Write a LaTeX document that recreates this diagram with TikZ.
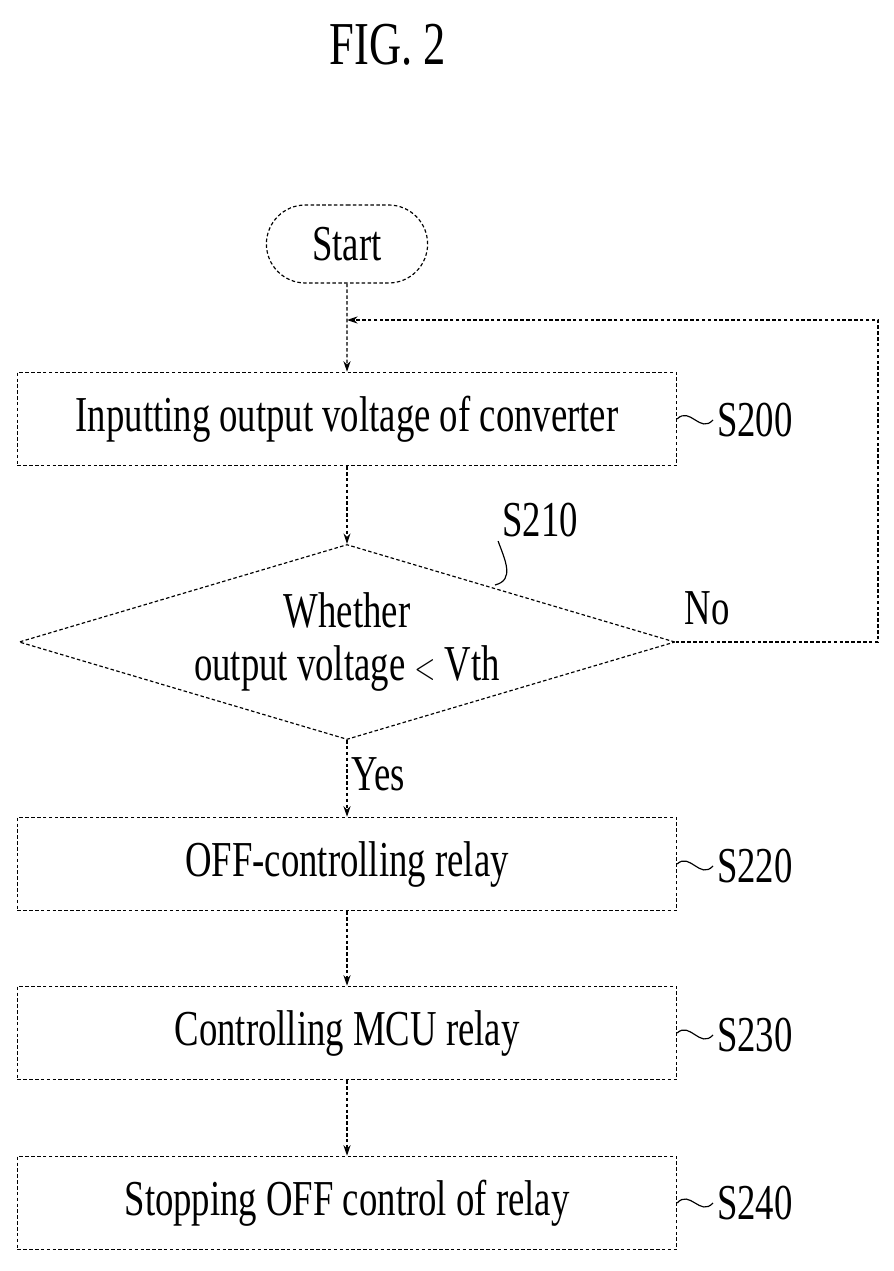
\documentclass[tikz,border=0pt]{standalone}
\usepackage{fontspec}
\setmainfont{Liberation Serif}
\usetikzlibrary{shapes.geometric,shapes.misc,arrows.meta,positioning}

% tall, narrow lettering
\newcommand{\tallt}[1]{\scalebox{0.95}[1.3]{#1}}

\begin{document}
\begin{tikzpicture}[x=0.03cm,y=-0.03cm,>={Stealth[length=9pt,width=6pt]},
    line/.style={densely dashed, line width=1pt},
    step box/.style={line, draw, rectangle, minimum width=19.77cm, minimum height=2.8cm,
        font=\fontsize{33}{36}\selectfont},
    step label/.style={font=\fontsize{33}{36}\selectfont},
    flow/.style={line, ->}]

% page
\useasboundingbox (0,0) rectangle (893,1271);

% Title
\node[font=\fontsize{40}{44}\selectfont] (title) at (388,45) {\tallt{FIG. 2}};

% Steps
\node[line, draw, rounded rectangle, minimum width=5.07cm, minimum height=2.34cm,
    font=\fontsize{33}{36}\selectfont] (start) at (347,244) {\tallt{Start}};
\node[step box] (s200) at (347,419) {\tallt{Inputting output voltage of converter}};
\node[line, draw, diamond, aspect=3.36, minimum width=19.68cm, minimum height=5.85cm,
    inner sep=0pt, align=center, font=\fontsize{33}{46}\selectfont] (s210) at (347,642)
    {\tallt{Whether}\\\tallt{output voltage \raisebox{1pt}{$<$} Vth}};
\node[step box] (s220) at (347,864) {\tallt{OFF-controlling relay}};
\node[step box] (s230) at (347,1033) {\tallt{Controlling MCU relay}};
\node[step box] (s240) at (347,1203) {\tallt{Stopping OFF control of relay}};

% Step labels
\foreach \s/\y in {s200/420, s220/866, s230/1035, s240/1203} {
  \node[step label, anchor=west] (\s lbl) at (713,\y) {\tallt{\MakeUppercase{\s}}};
  \draw[line width=1pt] (\s.east) .. controls (690,\y-14) and (700,\y+14) .. (\s lbl.west);
}
\node[step label] (s210lbl) at (540,520) {\tallt{S210}};
\draw[line width=1pt] (495,585) .. controls (515,580) and (505,560) .. (s210lbl.south west);

% Flow
\coordinate (loop top) at (347,320);
\draw[flow] (start) -- (s200);
\draw[flow] (s200) -- (s210);
\draw[flow] (s210) -- node[right, step label, pos=0.45] {\tallt{Yes}} (s220);
\draw[flow] (s220) -- (s230);
\draw[flow] (s230) -- (s240);
\draw[flow] (s210.east) -- (878,642) -- (878,320) -- (loop top);
\node[step label] (no) at (707,608) {\tallt{No}};

\end{tikzpicture}
\end{document}
